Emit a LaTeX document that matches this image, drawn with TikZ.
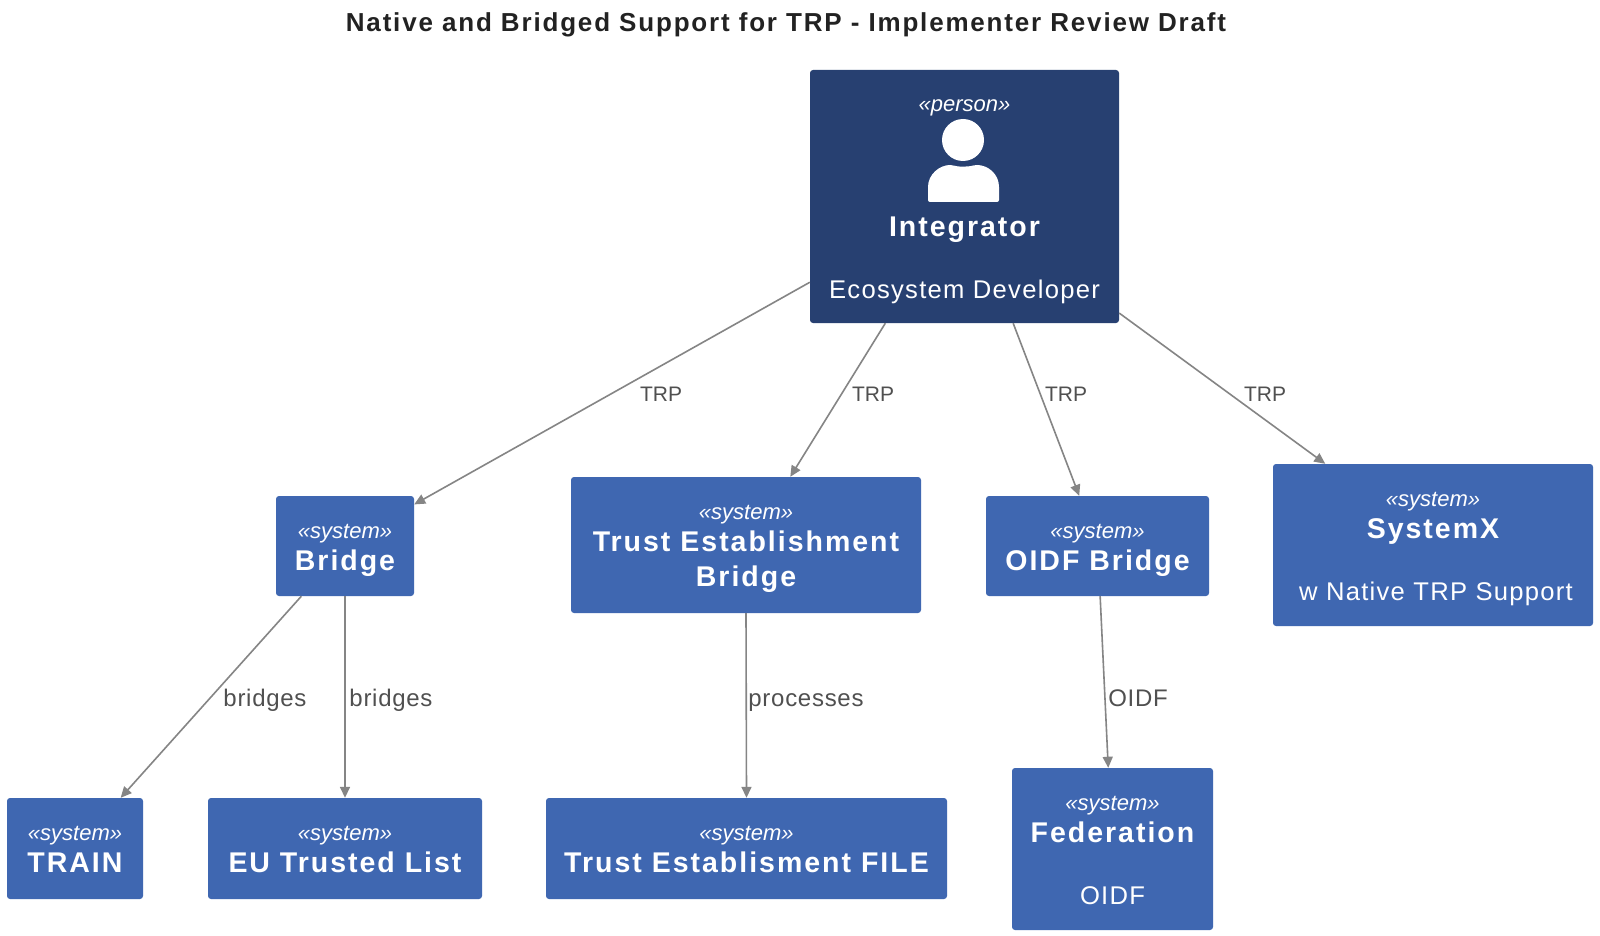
\documentclass[tikz,border=0pt]{standalone}
\usepackage{fontspec}
\setmainfont{Liberation Sans}
\newfontfamily\wideface[LetterSpace=7]{Liberation Sans}
\newfontfamily\edgeface[LetterSpace=3]{Liberation Sans}
\newfontfamily\descface[LetterSpace=5]{Liberation Sans}
\usetikzlibrary{arrows.meta, positioning}
\definecolor{personblue}{HTML}{274071}
\definecolor{systemblue}{HTML}{3F67B1}
\definecolor{edgegray}{HTML}{858585}
\definecolor{edgetext}{HTML}{505050}
\definecolor{titletext}{HTML}{222222}
\tikzset{
	boxbase/.style={inner sep=0pt, rounded corners=3pt, text=white},
	stereotext/.style={text=white, inner sep=0pt, font=\fontsize{22}{26}\selectfont\itshape},
	nametext/.style={text=white, inner sep=0pt, text height=20pt, text depth=6pt, font=\fontsize{28.5}{35}\selectfont\wideface\bfseries},
	desctext/.style={text=white, inner sep=0pt, text height=19pt, text depth=6pt, font=\fontsize{25.6}{30}\selectfont\descface},
	edgelabel/.style={text=edgetext, inner sep=0pt, text height=17pt, text depth=5pt, font=\fontsize{24}{28}\selectfont\edgeface},
	trplabel/.style={edgelabel, font=\fontsize{21}{25}\selectfont},
	edgeline/.style={draw=edgegray, line width=1.6pt, -{Triangle[length=11pt, width=10pt]}}
}
\begin{document}
\begin{tikzpicture}[x=1pt, y=-1pt]
	\useasboundingbox (0,0) rectangle (1600,936);
	\fill[white] (0,0) rectangle (1600,936);
	\node[inner sep=0pt, text=titletext, font=\fontsize{26}{30}\selectfont\wideface\bfseries] (title) at (786,25) {Native and Bridged Support for TRP - Implementer Review Draft};

	% person box
	\node[boxbase, fill=personblue, minimum width=309pt, minimum height=253pt] (integrator) at (964.5,196.5) {};
	\node[stereotext] (integrator-type) at ([yshift=-38pt]integrator.north) {«person»};
	\fill[white] (963,140) circle (21);
	\fill[white, rounded corners=2pt] (928,202) -- (928,189) .. controls (928,174) and (940,165) .. (952,165) .. controls (958,167) and (968,167) .. (975,165) .. controls (988,165) and (999,174) .. (999,189) -- (999,202) -- cycle;
	\node[nametext] (integrator-name) at (964.5,229) {Integrator};
	\node[desctext] (integrator-desc) at (964.5,291.5) {Ecosystem Developer};

	% systems
	\foreach \nm/\cx/\cy/\bw/\bh/\ttl in {
		bridge/345/546/138/100/Bridge,
		teb/746/545/350/136/Trust Establishment,
		oidfbridge/1097.5/546/223/100/OIDF Bridge,
		systemx/1433/545/320/162/SystemX,
		train/75/848.5/136/101/TRAIN,
		eulist/345/848.5/274/101/EU Trusted List,
		tefile/746.5/848.5/401/101/Trust Establisment FILE,
		federation/1112.5/849/201/162/Federation} {
		\node[boxbase, fill=systemblue, minimum width=\bw pt, minimum height=\bh pt] (\nm) at (\cx,\cy) {};
		\node[stereotext] (\nm-type) at ([yshift=-38pt]\nm.north) {«system»};
		\node[nametext] (\nm-name) at ([yshift=-68pt]\nm.north) {\ttl};
	}
	\node[nametext] (teb-line) at ([yshift=-103pt]teb.north) {Bridge};
	\node[desctext] (systemx-desc) at ([xshift=3pt, yshift=-130.5pt]systemx.north) {w Native TRP Support};
	\node[desctext] (federation-desc) at ([yshift=-130.5pt]federation.north) {OIDF};

	% connectors
	\draw[edgeline] (integrator.209.8) -- (bridge.31);
	\draw[edgeline] (integrator.238.2) -- (teb.57.7);
	\draw[edgeline] (integrator.-69.4) -- (oidfbridge.110.3);
	\draw[edgeline] (integrator.-37.3) -- (systemx.143.4);
	\draw[edgeline] (bridge.229.3) -- (train.48.3);
	\draw[edgeline] (bridge.south) -- (eulist.north);
	\draw[edgeline] (teb.south) -- (tefile.north);
	\draw[edgeline] (oidfbridge.-87) -- (federation.93);

	\foreach \nm/\cx in {trpa/661, trpb/873, trpc/1066, trpd/1265} {
		\node[trplabel] (\nm) at (\cx,395) {TRP};
	}
	\foreach \nm/\cx/\lbl in {bridgesa/265/bridges, bridgesb/391/bridges, processes/806/processes, oidfedge/1138/OIDF} {
		\node[edgelabel] (\nm) at (\cx,700) {\lbl};
	}
\end{tikzpicture}
\end{document}
